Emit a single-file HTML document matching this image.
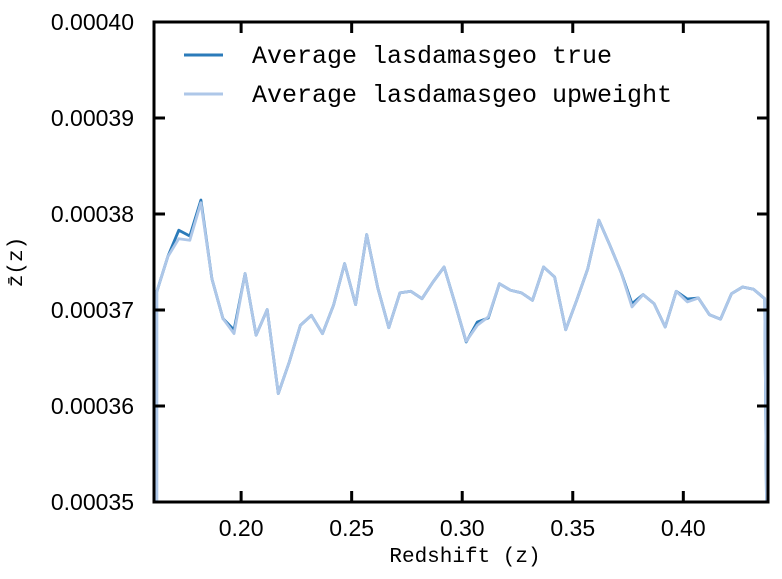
<!DOCTYPE html>
<html><head><meta charset="utf-8"><style>
html,body{margin:0;padding:0;background:#fff;width:782px;height:579px;overflow:hidden;}
svg{display:block;}
</style></head><body>
<svg id="chart" width="782" height="579" xmlns="http://www.w3.org/2000/svg">
<defs><clipPath id="clip"><rect x="154" y="22" width="614" height="480"/></clipPath></defs>
<g id="lines" clip-path="url(#clip)"></g>
<g id="axes"></g>
<g>
<line x1="184" y1="55" x2="223" y2="55" stroke="#2b7bba" stroke-width="3"/>
<text x="252" y="63" font-family="'Liberation Mono', monospace" font-size="25" fill="#000">Average lasdamasgeo true</text>
<line x1="184" y1="94" x2="223" y2="94" stroke="#aec7e8" stroke-width="3"/>
<text x="252" y="102" font-family="'Liberation Mono', monospace" font-size="25" fill="#000">Average lasdamasgeo upweight</text>
</g>
<text x="465" y="562" text-anchor="middle" font-family="'Liberation Mono', monospace" font-size="21">Redshift (z)</text>
<text transform="translate(22,262) rotate(-90)" text-anchor="middle" font-family="'Liberation Mono', monospace" font-size="21">z̄(z)</text>
</svg>
<script>
const redshifts = [0.1618,0.1668,0.1718,0.1768,0.1818,0.1868,0.1918,0.1968,0.2018,0.2068,0.2118,0.2168,0.2218,0.2268,0.2318,0.2368,0.2418,0.2468,0.2518,0.2568,0.2618,0.2668,0.2718,0.2768,0.2818,0.2868,0.2918,0.2968,0.3018,0.3068,0.3118,0.3168,0.3218,0.3268,0.3318,0.3368,0.3418,0.3468,0.3518,0.3568,0.3618,0.3668,0.3718,0.3768,0.3818,0.3868,0.3918,0.3968,0.4018,0.4068,0.4118,0.4168,0.4218,0.4268,0.4318,0.4368];
// values in units of 1e-4
const trueVals = [3.7188,3.7553,3.7831,3.7771,3.8146,3.7326,3.6910,3.6792,3.7379,3.6737,3.7004,3.6129,3.6459,3.6841,3.6945,3.6754,3.7049,3.7483,3.7056,3.7785,3.7230,3.6816,3.7178,3.7195,3.7118,3.7292,3.7448,3.7066,3.6667,3.6875,3.6918,3.7274,3.7206,3.7178,3.7101,3.7448,3.7344,3.6795,3.7101,3.7431,3.7935,3.7674,3.7396,3.7066,3.7160,3.7066,3.6823,3.7195,3.7115,3.7125,3.6951,3.6904,3.7170,3.7240,3.7216,3.7118];
const upweightVals = [3.7188,3.7553,3.7743,3.7726,3.8118,3.7326,3.6910,3.6754,3.7379,3.6737,3.7004,3.6129,3.6459,3.6841,3.6945,3.6754,3.7049,3.7483,3.7056,3.7785,3.7230,3.6816,3.7178,3.7195,3.7118,3.7292,3.7448,3.7066,3.6674,3.6841,3.6928,3.7274,3.7206,3.7178,3.7101,3.7448,3.7344,3.6795,3.7101,3.7431,3.7935,3.7674,3.7396,3.7032,3.7160,3.7066,3.6823,3.7195,3.7084,3.7125,3.6951,3.6904,3.7170,3.7240,3.7216,3.7118];
const xTicks = [0.20,0.25,0.30,0.35,0.40];
const xTickLabels = ["0.20","0.25","0.30","0.35","0.40"];
const yTicks = [3.5,3.6,3.7,3.8,3.9,4.0];
const yTickLabels = ["0.00035","0.00036","0.00037","0.00038","0.00039","0.00040"];

const L=154,R=768,T=22,B=502, X0=0.1606,X1=0.4383,Y0=3.5,Y1=4.0;
const xs=z=>L+(z-X0)/(X1-X0)*(R-L);
const ys=v=>B-(v-Y0)/(Y1-Y0)*(B-T);
const NS='http://www.w3.org/2000/svg';
function mk(tag,attrs,parent){const e=document.createElementNS(NS,tag);for(const k in attrs)e.setAttribute(k,attrs[k]);parent.appendChild(e);return e;}
const lines=document.getElementById('lines'), axes=document.getElementById('axes');
const DROP=3.45;
function drawSeries(vals,color,name){
  let d='M'+xs(redshifts[0]).toFixed(1)+','+ys(DROP).toFixed(1);
  vals.forEach((v,i)=>{d+=' L'+xs(redshifts[i]).toFixed(1)+','+ys(v).toFixed(1);});
  const last=redshifts[redshifts.length-1]+0.001;
  d+=' L'+xs(last).toFixed(1)+','+ys(DROP).toFixed(1);
  const p=mk('path',{d:d,fill:'none',stroke:color,'stroke-width':2.8,'stroke-linejoin':'round'},lines);
  
  
}
drawSeries(trueVals,'#2b7bba','series-true-line');
drawSeries(upweightVals,'#aec7e8','series-upweight-line');
xTicks.forEach((t,i)=>{
  const x=xs(t);
  const a=mk('line',{x1:x,y1:B,x2:x,y2:B-11,stroke:'#000','stroke-width':3},axes);
  
  
  const b=mk('line',{x1:x,y1:T,x2:x,y2:T+11,stroke:'#000','stroke-width':3},axes);
  
  
  const tx=mk('text',{x:x,y:B+34,'text-anchor':'middle','font-family':"'Liberation Sans', sans-serif",'font-size':23},axes);
  tx.textContent=xTickLabels[i];
  
  
});
yTicks.forEach((t,i)=>{
  const y=ys(t);
  const a=mk('line',{x1:L,y1:y,x2:L+11,y2:y,stroke:'#000','stroke-width':3},axes);
  
  
  const b=mk('line',{x1:R,y1:y,x2:R-11,y2:y,stroke:'#000','stroke-width':3},axes);
  
  
  const tx=mk('text',{x:L-20,y:y+8,'text-anchor':'end','font-family':"'Liberation Sans', sans-serif",'font-size':23},axes);
  tx.textContent=yTickLabels[i];
  
  
});
const frame=mk('rect',{x:L,y:T,width:R-L,height:B-T,fill:'none',stroke:'#000','stroke-width':3},axes);


</script>
</body></html>
